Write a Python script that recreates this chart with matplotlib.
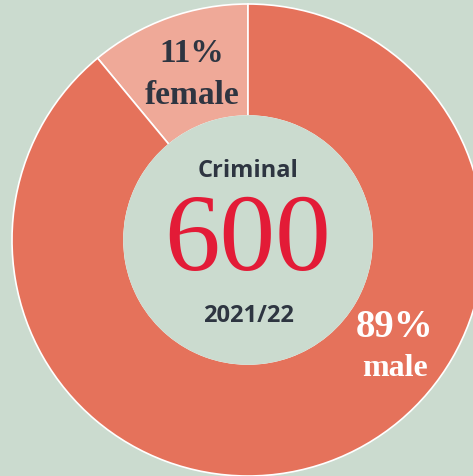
import matplotlib.pyplot as plt
from matplotlib.patches import Circle

# data
labels = ['female', 'male']
shares = [11, 89]
share_text = ['11%', '89%']
total = '600'
title = 'Criminal'
period = '2021/22'

BG = '#cbdbcf'
MALE = '#e5725b'
FEMALE = '#efa998'
DARK = '#2e3541'
RED = '#e31b37'

W, H = 473, 477
fig = plt.figure(figsize=(W / 100, H / 100), dpi=100, facecolor=BG)
ax = fig.add_axes([0, 0, 1, 1])
ax.set_facecolor(BG)

cx, cy = 248, 236
r_out, r_in = 236, 124

ax.pie(shares, colors=[FEMALE, MALE], startangle=90, counterclock=True,
       radius=r_out, center=(cx, cy), frame=True,
       wedgeprops=dict(width=r_out - r_in, edgecolor='white', linewidth=1.2))
ax.set_xlim(0, W)
ax.set_ylim(0, H)
ax.set_aspect('equal')
ax.axis('off')
ax.add_patch(Circle((cx, cy), r_in + 0.8, facecolor=BG, edgecolor='none', zorder=3))

serif = ['Liberation Serif', 'DejaVu Serif']
sans = ['Open Sans', 'DejaVu Sans']

ax.text(192, 415, share_text[0], ha='center', va='baseline', fontsize=24,
        fontweight='bold', family=serif, color=DARK, zorder=4)
ax.text(192, 373, labels[0], ha='center', va='baseline', fontsize=24,
        fontweight='bold', family=serif, color=DARK, zorder=4)

ax.text(395, 140, share_text[1], ha='center', va='baseline', fontsize=28,
        fontweight='bold', family=serif, color='white', zorder=4)
ax.text(395, 101, labels[1], ha='center', va='baseline', fontsize=23,
        fontweight='bold', family=serif, color='white', zorder=4)

ax.text(cx, 300, title, ha='center', va='baseline', fontsize=17,
        fontweight='bold', family=sans, color=DARK, zorder=4)
ax.text(cx, 207, total, ha='center', va='baseline', fontsize=80,
        family=serif, color=RED, zorder=4)
ax.text(cx, 155, period, ha='center', va='baseline', fontsize=17,
        fontweight='bold', family=sans, color=DARK, zorder=4)

fig.savefig('out.png', dpi=100, facecolor=BG)
